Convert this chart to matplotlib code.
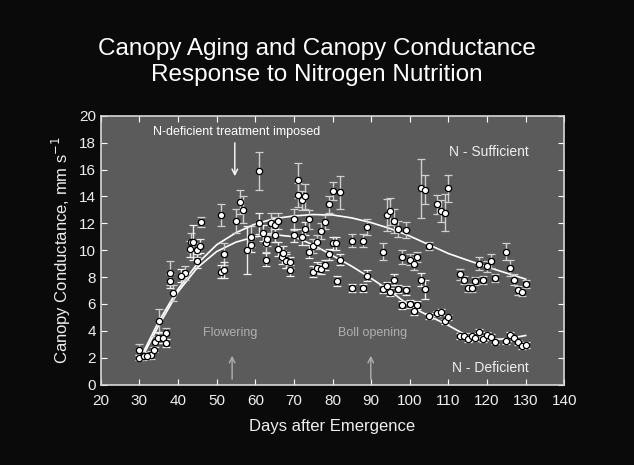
import numpy as np
import matplotlib.pyplot as plt

# N - sufficient plot: day, conductance, error
suff_day = [30, 31, 33, 34, 35, 36.8, 38, 38.8, 41.8, 43.3, 44.9, 45.9, 51, 51.9,
            55, 56, 56.9, 59, 61, 62.9, 64, 65, 66, 68, 70, 71, 71, 72, 73, 74,
            75, 76, 77, 78, 79, 80, 82, 85, 88, 89, 93, 94, 95, 96, 97, 98, 99,
            100, 101, 102, 103, 104, 105.1, 107, 108, 109, 110, 113, 114, 115,
            116, 117, 118, 119, 120, 121, 122, 125, 126, 127, 128, 129, 130]
suff_g = [2.6, 2.1, 2.2, 3.2, 4.7, 3.8, 8.3, 6.8, 8.3, 10.6, 10.0, 12.1, 12.6, 9.7,
          12.2, 13.6, 13.0, 11.0, 15.9, 10.5, 12.0, 11.9, 12.2, 9.3, 12.3, 15.2,
          14.1, 13.7, 14.0, 12.3, 10.3, 10.6, 11.4, 12.1, 13.4, 14.4, 14.3, 10.7,
          10.7, 11.7, 9.9, 12.6, 12.9, 12.2, 11.6, 9.5, 11.5, 9.3, 9.0, 9.5, 14.6,
          14.5, 10.3, 13.4, 12.9, 12.8, 14.6, 8.2, 7.8, 7.2, 7.2, 7.7, 9.0, 7.8,
          8.8, 9.2, 7.9, 9.9, 8.7, 7.8, 7.0, 6.9, 7.5]
suff_err = [0.4, 0.3, 0.3, 0.4, 0.9, 0.4, 0.9, 0.6, 0.5, 0.7, 0.5, 0.4, 0.8, 0.8,
            0.9, 0.9, 1.0, 0.8, 1.4, 0.6, 0.8, 0.6, 0.6, 0.6, 0.8, 1.3, 0.9, 0.7,
            0.9, 0.7, 0.5, 0.5, 0.6, 0.5, 0.6, 0.7, 1.2, 0.5, 0.5, 0.6, 0.6, 1.2,
            1.0, 0.9, 0.6, 0.5, 0.6, 0.4, 0.5, 0.4, 2.2, 1.1, 0.3, 0.7, 0.8, 1.4,
            1.0, 0.4, 0.3, 0.3, 0.3, 0.3, 0.5, 0.3, 0.4, 0.5, 0.3, 0.6, 0.6, 0.4,
            0.3, 0.3, 0.3]

# N - deficient plot
defi_day = [30, 31.1, 32, 33.9, 34.9, 36, 36.8, 38, 40.8, 43.9, 43, 44.9, 45.7,
            51, 51.9, 57.9, 59, 61, 61.9, 62.9, 63, 65, 66, 66.9, 67.1, 67.9, 69,
            69.1, 70, 72, 73, 74, 75, 76, 77, 78, 79, 80, 81, 81.1, 82, 85, 88, 89,
            93, 94, 95, 96, 97, 98, 99, 100, 101, 102, 103, 104, 105.1, 107, 108,
            109, 110, 113, 114, 115, 116, 117, 118, 119, 120, 121, 122, 125, 126,
            127, 128, 129, 130]
defi_g = [2.0, 2.1, 2.1, 2.6, 3.5, 3.5, 3.1, 7.7, 8.1, 10.6, 10.1, 9.2, 10.3,
          8.4, 8.5, 10.0, 10.4, 12.0, 11.3, 9.3, 10.8, 11.1, 10.1, 9.5, 9.8, 9.2,
          8.5, 9.1, 11.1, 11.0, 11.6, 9.9, 8.4, 8.7, 8.6, 8.9, 9.7, 10.5, 10.5,
          7.7, 9.3, 7.2, 7.2, 8.1, 7.1, 7.3, 6.9, 7.8, 7.1, 5.9, 7.0, 6.0, 5.5,
          5.9, 7.8, 7.1, 5.1, 5.3, 5.4, 4.7, 5.0, 3.6, 3.65, 3.4, 3.6, 3.45, 3.9,
          3.4, 3.7, 3.55, 3.2, 3.25, 3.7, 3.45, 3.15, 2.85, 2.95]
defi_err = [0.2, 0.2, 0.2, 0.2, 0.4, 0.4, 0.3, 0.5, 0.5, 1.3, 0.6, 0.5, 0.5,
            0.5, 0.6, 1.8, 0.5, 0.8, 0.6, 0.5, 0.5, 0.5, 0.5, 0.5, 0.5, 0.5, 0.4,
            0.4, 0.5, 0.6, 0.5, 0.5, 0.4, 0.4, 0.4, 0.4, 0.4, 0.5, 0.5, 0.4, 0.4,
            0.3, 0.3, 0.4, 0.3, 0.3, 0.3, 0.4, 0.3, 0.3, 0.3, 0.3, 0.3, 0.3, 0.5,
            0.7, 0.2, 0.2, 0.2, 0.2, 0.2, 0.2, 0.2, 0.2, 0.2, 0.2, 0.2, 0.2, 0.2,
            0.2, 0.2, 0.2, 0.2, 0.2, 0.2, 0.2, 0.2]

# fitted curves
fit_day = [31, 35, 40, 45, 50, 55, 60, 65, 70, 75, 80, 85, 90, 95, 100, 105,
           110, 115, 120, 125, 130]
fit_suff = [2.4, 4.7, 7.1, 9.0, 10.4, 11.3, 11.95, 12.35, 12.55, 12.65, 12.62,
            12.4, 12.05, 11.6, 11.05, 10.4, 9.75, 9.25, 8.75, 8.3, 7.85]
fit_defi = [2.2, 4.4, 6.9, 8.7, 9.9, 10.6, 11.0, 11.15, 11.0, 10.4, 9.6, 8.8,
            7.9, 6.95, 5.85, 5.1, 4.4, 3.6, 3.35, 3.4, 3.65]

plt.rcParams['font.family'] = ['Liberation Sans', 'DejaVu Sans']

fig = plt.figure(figsize=(6.34, 4.65), dpi=100, facecolor='#0a0a0a')
ax = fig.add_axes([0.159, 0.173, 0.731, 0.578])
ax.set_facecolor('#5b5b5b')

ax.plot(fit_day, fit_suff, color='white', lw=1.2, zorder=2)
ax.plot(fit_day, fit_defi, color='white', lw=1.2, zorder=2)

ax.errorbar(suff_day, suff_g, yerr=suff_err, fmt='o', ms=4.5, mfc='white',
            mec='black', mew=0.9, ecolor='#cfcfcf', elinewidth=1, capsize=3,
            capthick=1, zorder=3)
ax.errorbar(defi_day, defi_g, yerr=defi_err, fmt='o', ms=4.5, mfc='white',
            mec='black', mew=0.9, ecolor='#eeeeee', elinewidth=1, capsize=3,
            capthick=1, zorder=3)

ax.set_xlim(20, 140)
ax.set_ylim(0, 20)
ax.set_xticks(np.arange(20, 141, 10))
ax.set_yticks(np.arange(0, 21, 2))
ax.tick_params(direction='in', top=True, right=True, length=4, color='white',
               labelcolor='#eeeeee', labelsize=11)
ax.tick_params(axis='x', pad=7)
for s in ax.spines.values():
    s.set_color('#d8d8d8')
    s.set_linewidth(1.2)

ax.set_xlabel('Days after Emergence', color='#eeeeee', fontsize=12, labelpad=8)
ax.set_ylabel('Canopy Conductance, mm s$^{-1}$', color='#eeeeee', fontsize=12)

fig.text(0.5, 0.867, 'Canopy Aging and Canopy Conductance\nResponse to Nitrogen Nutrition',
         ha='center', va='center', color='white', fontsize=17.5, linespacing=1.25)

ax.text(55.2, 18.8, 'N-deficient treatment imposed', ha='center', va='center',
        color='white', fontsize=9)
ax.annotate('', xy=(54.7, 15.3), xytext=(54.7, 18.2),
            arrowprops=dict(arrowstyle='->', color='white', lw=1))
ax.text(120.4, 17.3, 'N - Sufficient', ha='center', va='center',
        color='#eeeeee', fontsize=10)
ax.text(120.9, 1.2, 'N - Deficient', ha='center', va='center',
        color='#eeeeee', fontsize=10)
ax.text(53.4, 3.8, 'Flowering', ha='center', va='center', color='#b0b0b0',
        fontsize=9)
ax.text(90.3, 3.8, 'Boll opening', ha='center', va='center', color='#b0b0b0',
        fontsize=9)
for d in (54, 89.9):
    ax.annotate('', xy=(d, 2.35), xytext=(d, 0.2),
                arrowprops=dict(arrowstyle='->', color='#b0b0b0', lw=1))

fig.savefig('out.png', dpi=100, facecolor=fig.get_facecolor())
